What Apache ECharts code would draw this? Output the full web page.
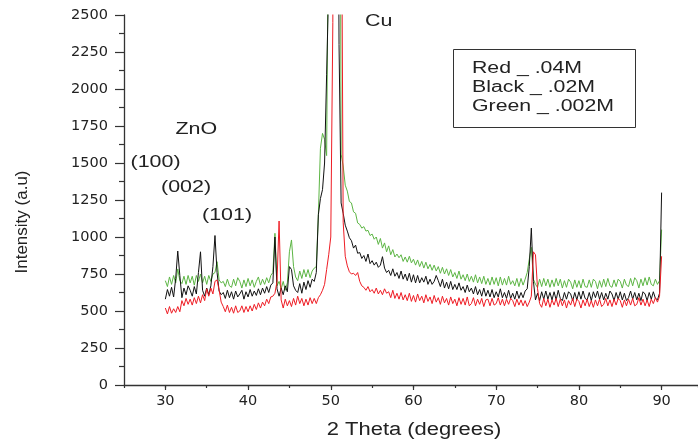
<!DOCTYPE html>
<html>
<head>
<meta charset="utf-8">
<script src="https://cdn.jsdelivr.net/npm/echarts@6/dist/echarts.min.js"></script>
<style>
html,body{margin:0;padding:0;background:#fff;}
#chart{width:698px;height:444px;}
</style>
</head>
<body>
<div id="chart"></div>
<script>
// 2θ sampling grid (degrees)
const thetaStart = 30;
const thetaStep = 0.25;

// Intensities (a.u.), one value per 0.25° from 30° to 90°
const greenIntensity = [
705,665,730,680, 740,690,784,705, 685,735,680,740, 690,735,675,740, 700,750,690,735,
680,740,700,750, 760,833,710,690, 700,665,715,670, 660,715,670,725, 700,655,710,665,
720,670,710,660, 700,730,675,715, 680,725,690,740, 760,1025,670,700, 650,700,640,690,
900,980,800,730, 705,770,720,780, 730,780,725,770, 790,800,1150,1600, 1700,1660,1550,3500,
15000,20000,18000,15000, 6260,1560,1480,1350, 1310,1240,1230,1170, 1160,1095,1085,1060, 1070,1040,1045,1010,
1020,985,1000,950, 990,925,960,900, 940,880,915,865, 885,860,880,835, 865,830,870,825,
850,810,845,800, 835,790,830,785, 815,775,810,770, 800,755,795,750, 785,740,780,730,
760,720,770,715, 745,705,750,700, 735,695,745,690, 730,685,735,680, 720,675,730,680,
725,670,730,675, 720,675,735,680, 705,670,720,665, 720,675,715,760, 850,930,715,680,
660,715,665,720, 670,715,660,710, 665,720,670,715, 655,705,660,715, 695,650,710,660,
705,655,715,665, 660,710,660,715, 700,650,705,660, 715,665,720,670, 660,710,665,715,
700,655,715,675, 665,720,670,725, 705,655,715,670, 725,675,730,680, 670,715,680,705,
1050
];
const blackIntensity = [
580,645,600,660, 595,720,905,740, 590,655,610,670, 640,600,665,615, 760,900,640,600,
655,610,670,800, 1010,760,635,610, 625,585,640,590, 630,580,635,595, 615,640,580,630,
595,645,600,635, 605,650,610,655, 620,665,625,675, 690,1000,650,600, 655,610,670,630,
800,780,670,640, 625,685,620,695, 645,705,660,715, 700,760,1150,1260, 1320,1500,2100,2700,
8000,12000,10000,5000, 2300,1230,1160,1080, 1040,995,975,925, 945,890,895,855, 875,835,885,820,
840,810,830,795, 810,867,790,760, 775,740,785,735, 760,720,770,715, 750,705,755,695,
745,690,740,690, 725,695,735,680, 715,680,700,740, 705,665,715,655, 695,650,700,645,
680,645,690,640, 665,625,675,630, 655,615,665,610, 645,600,655,600, 640,595,645,590,
630,595,650,590, 625,585,640,585, 620,580,635,585, 625,590,635,650, 800,1060,700,575,
620,570,630,580, 635,580,625,575, 630,575,640,585, 570,625,580,630, 615,570,625,575,
630,580,635,585, 575,625,570,630, 590,635,580,625, 575,620,580,635, 615,570,625,580,
630,575,620,570, 590,635,580,625, 575,620,570,630, 615,570,625,580, 630,585,575,620,
1300
];
const redIntensity = [
520,480,530,485, 515,490,530,495, 570,535,585,545, 580,540,590,550, 600,555,610,570,
650,600,655,615, 700,710,640,560, 530,495,540,490, 525,485,535,490, 500,535,490,530,
495,535,500,545, 510,555,520,560, 535,580,550,595, 600,620,700,1108, 575,520,580,535,
570,530,585,540, 600,550,585,535, 580,540,590,550, 585,550,590,610, 640,680,780,880,
1000,2450,20000,20000, 9000,4000,1100,870, 805,765,750,755, 740,760,700,670, 660,640,665,630,
645,620,655,615, 640,610,650,620, 630,590,640,585, 620,580,625,575, 610,570,620,565,
605,560,615,570, 600,555,610,565, 595,550,605,560, 590,545,600,555, 585,540,595,550,
580,535,590,545, 585,540,595,535, 550,590,535,580, 545,585,530,575, 580,535,585,540,
550,590,540,580, 535,580,545,585, 570,530,580,540, 575,535,570,530, 560,600,900,880,
650,550,525,585, 535,580,525,575, 540,585,530,580, 535,575,520,570, 540,585,530,580,
565,520,575,535, 580,530,570,525, 575,535,580,530, 545,585,535,575, 530,580,540,585,
570,525,575,535, 580,540,585,535, 545,590,540,580, 535,575,530,580, 550,590,560,600,
870
];

const seriesNames = ['Green _ .002M', 'Black _ .02M', 'Red _ .04M'];
const legendLines = ['Red _ .04M', 'Black _ .02M', 'Green _ .002M'];
const xTickLabels = [30, 40, 50, 60, 70, 80, 90];
const yTickLabels = [0, 250, 500, 750, 1000, 1250, 1500, 1750, 2000, 2250, 2500];
const annotations = ['Cu', 'ZnO', '(100)', '(002)', '(101)'];

function pairs(arr) {
  return arr.map((v, i) => [thetaStart + i * thetaStep, v]);
}

const chart = echarts.init(document.getElementById('chart'), null, {renderer: 'canvas'});

const axisColor = '#333';
const labelFont = 'DejaVu Sans';
const textFont = 'Liberation Sans';

function annText(txt, left, cy, size, sx) {
  return {
    type: 'text', x: left, y: cy, scaleX: sx, z: 100,
    style: {text: txt, x: 0, y: 0, align: 'left', verticalAlign: 'middle',
            font: size + 'px "' + textFont + '"', fill: '#222'}
  };
}

const option = {
  animation: false,
  backgroundColor: '#fff',
  grid: {left: 124, top: 15, width: 574, height: 370, containLabel: false},
  xAxis: [{
    type: 'value', min: 25, max: 94.4, interval: 5,
    axisLine: {show: true, lineStyle: {color: axisColor, width: 1.3}},
    axisTick: {show: true, length: 5, customValues: xTickLabels, lineStyle: {color: axisColor, width: 1.2}},
    axisLabel: {show: true, customValues: xTickLabels, margin: 9, fontFamily: labelFont, fontSize: 14.5, color: '#222'},
    splitLine: {show: false}
  }, {
    type: 'value', min: 25, max: 94.4, interval: 5, gridIndex: 0, position: 'bottom',
    axisLine: {show: false},
    axisTick: {show: true, length: 3, lineStyle: {color: axisColor, width: 1.2}},
    axisLabel: {show: false},
    splitLine: {show: false}
  }],
  yAxis: {
    type: 'value', min: 0, max: 2500, interval: 250,
    axisLine: {show: true, lineStyle: {color: axisColor, width: 1.3}},
    axisTick: {show: true, length: 9, lineStyle: {color: axisColor, width: 1.2}},
    minorTick: {show: true, splitNumber: 2, length: 5, lineStyle: {color: axisColor, width: 1.2}},
    axisLabel: {margin: 16, fontFamily: labelFont, fontSize: 14.5, color: '#222',
      formatter: v => (yTickLabels.indexOf(v) >= 0 ? String(v) : '')},
    splitLine: {show: false}
  },
  series: [
    {name: seriesNames[0], type: 'line', data: pairs(greenIntensity), showSymbol: false, symbol: 'none',
     lineStyle: {color: '#5cb544', width: 1}, itemStyle: {color: '#5cb544'}, clip: true, z: 2},
    {name: seriesNames[1], type: 'line', data: pairs(blackIntensity), showSymbol: false, symbol: 'none',
     lineStyle: {color: '#111111', width: 1}, itemStyle: {color: '#111111'}, clip: true, z: 3},
    {name: seriesNames[2], type: 'line', data: pairs(redIntensity), showSymbol: false, symbol: 'none',
     lineStyle: {color: '#ee1c24', width: 1}, itemStyle: {color: '#ee1c24'}, clip: true, z: 4}
  ],
  graphic: [
    {type: 'text', x: 414, y: 430, scaleX: 1.22,
     style: {text: '2 Theta (degrees)', x: 0, y: 0, align: 'center', verticalAlign: 'middle',
             font: '18px "' + textFont + '"', fill: '#222'}},
    {type: 'text', x: 22, y: 222, rotation: Math.PI / 2,
     style: {text: 'Intensity (a.u)', x: 0, y: 0, align: 'center', verticalAlign: 'middle',
             font: '17px "' + textFont + '"', fill: '#222'}},
    annText(annotations[0], 365, 21, 16.5, 1.3),
    annText(annotations[1], 175.5, 129, 16.5, 1.3),
    annText(annotations[2], 130.5, 162.5, 16.5, 1.3),
    annText(annotations[3], 161, 187.5, 16.5, 1.3),
    annText(annotations[4], 202, 215, 16.5, 1.3),
    {type: 'rect', shape: {x: 453.5, y: 49.5, width: 182, height: 78}, z: 90,
     style: {fill: '#fff', stroke: '#333', lineWidth: 1}},
    annText(legendLines[0], 472, 69, 16, 1.33),
    annText(legendLines[1], 472, 88, 16, 1.33),
    annText(legendLines[2], 472, 107, 16, 1.33)
  ]
};

chart.setOption(option);
</script>
</body>
</html>
